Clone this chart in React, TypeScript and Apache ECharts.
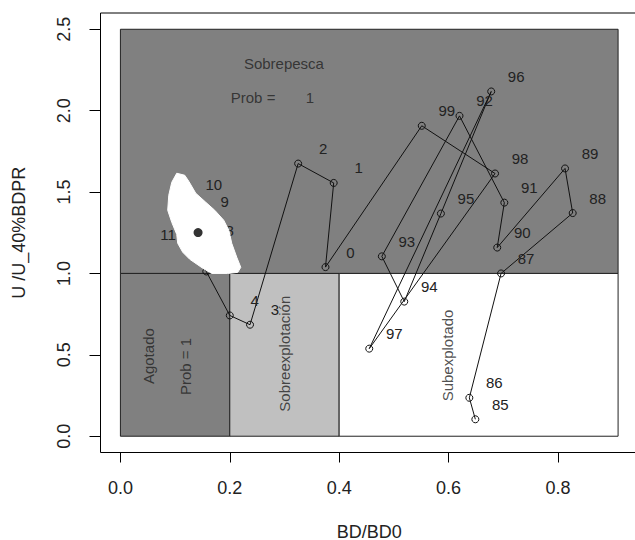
import React, { useEffect, useRef } from 'react';
import * as echarts from 'echarts';

// Trajectory (year labels, BD/BD0, U/U_40%BDPR)
const years = ['85', '86', '87', '88', '89', '90', '91', '92', '93', '94', '95', '96', '97', '98', '99', '0', '1', '2', '3', '4', '5', '6', '7', '8', '9', '10', '11'];
const bdRatio = [0.649, 0.638, 0.696, 0.827, 0.813, 0.689, 0.702, 0.620, 0.478, 0.519, 0.586, 0.678, 0.455, 0.685, 0.551, 0.375, 0.390, 0.325, 0.237, 0.200, 0.157, 0.145, 0.136, 0.154, 0.145, 0.125, 0.142];
const uRatio = [0.104, 0.236, 1.0, 1.371, 1.645, 1.159, 1.435, 1.968, 1.105, 0.827, 1.368, 2.118, 0.538, 1.614, 1.907, 1.039, 1.556, 1.675, 0.685, 0.742, 1.012, 1.093, 1.153, 1.173, 1.347, 1.456, 1.251];
// Year labels fully hidden under the cloud in the reference
const hiddenLabels = ['6', '7'];

// Uncertainty cloud of the last year (outline)
const cloudX = [0.103, 0.1176, 0.125, 0.1378, 0.1561, 0.1725, 0.189, 0.1982, 0.2036, 0.2128, 0.2201, 0.2146, 0.1963, 0.167, 0.1506, 0.1268, 0.114, 0.1048, 0.103, 0.0939, 0.0865, 0.0884, 0.0939];
const cloudY = [1.6156, 1.6033, 1.5664, 1.4926, 1.4373, 1.3881, 1.3266, 1.2651, 1.1851, 1.099, 1.0375, 1.0068, 1.0, 1.0, 1.032, 1.087, 1.13, 1.185, 1.24, 1.314, 1.388, 1.48, 1.56];

// Zones: x0, y0, x1, y1
const zoneX0 = [0, 0, 0.2, 0.4];
const zoneY0 = [1, 0, 0, 0];
const zoneX1 = [0.91, 0.2, 0.4, 0.91];
const zoneY1 = [2.5, 1, 1, 1];
const zoneFill = ['#808080', '#808080', '#c0c0c0', '#ffffff'];

// Zone annotations
const noteText = ['Sobrepesca', 'Prob =', '1', 'Agotado', 'Prob = 1', 'Sobreexplotación', 'Subexplotado'];
const noteX = [0.299, 0.2426, 0.3463, 0.0505, 0.1195, 0.3006, 0.598];
const noteY = [2.29, 2.081, 2.081, 0.492, 0.4287, 0.507, 0.496];
const noteRot = [0, 0, 0, 90, 90, 90, 90];

// Axis ticks
const xTicks = [0, 0.2, 0.4, 0.6, 0.8];
const yTicks = [0, 0.5, 1, 1.5, 2, 2.5];

const FONT = '"Liberation Sans", Arial, sans-serif';

export default function App() {
  const ref = useRef<HTMLDivElement>(null);
  useEffect(() => {
    if (!ref.current) return;
    const chart = echarts.init(ref.current, undefined, { renderer: 'svg' });
    const last = years.length - 1;
    const option: any = {
      animation: false,
      grid: {
        left: 100.5, top: 13, width: 537.5, height: 439.5,
        outerBoundsMode: 'none', containLabel: false,
        show: true, borderColor: '#000', borderWidth: 1, backgroundColor: '#fff',
      },
      xAxis: {
        type: 'value', min: -0.0364, max: 0.9464,
        axisLine: { show: false, onZero: false },
        splitLine: { show: false },
        axisTick: { show: true, inside: false, length: 10, customValues: xTicks, lineStyle: { color: '#000' } },
        axisLabel: { customValues: xTicks, formatter: (v: number) => v.toFixed(1), margin: 26, fontSize: 18, color: '#222', fontFamily: FONT },
        name: 'BD/BD0', nameLocation: 'middle', nameGap: 70,
        nameTextStyle: { fontSize: 18, color: '#222', fontFamily: FONT },
      },
      yAxis: {
        type: 'value', min: -0.1, max: 2.6,
        axisLine: { show: false, onZero: false },
        splitLine: { show: false },
        axisTick: { show: true, inside: false, length: 11, customValues: yTicks, lineStyle: { color: '#000' } },
        axisLabel: {
          customValues: yTicks, rotate: 90, align: 'center', verticalAlign: 'middle',
          formatter: (v: number) => v.toFixed(1), margin: 37, fontSize: 18, color: '#222', fontFamily: FONT,
        },
        name: 'U /U_40%BDPR', nameLocation: 'middle', nameRotate: 90, nameGap: 73,
        nameTextStyle: { fontSize: 18, color: '#222', fontFamily: FONT },
      },
      series: [
        {
          type: 'custom', z: 1, silent: true,
          encode: { x: [0, 2], y: [1, 3] },
          data: zoneX0.map((x0, i) => [x0, zoneY0[i], zoneX1[i], zoneY1[i], i]),
          renderItem: (params: any, api: any) => {
            const p0 = api.coord([api.value(0), api.value(3)]);
            const p1 = api.coord([api.value(2), api.value(1)]);
            return {
              type: 'rect',
              shape: { x: p0[0], y: p0[1], width: p1[0] - p0[0], height: p1[1] - p0[1] },
              style: { fill: zoneFill[api.value(4)], stroke: '#222', lineWidth: 1 },
            };
          },
        },
        {
          type: 'line', z: 2, silent: true,
          showAllSymbol: true,
          symbol: 'circle', symbolSize: 7,
          itemStyle: { color: 'rgba(0,0,0,0)', borderColor: '#111', borderWidth: 1 },
          lineStyle: { color: '#111', width: 1 },
          label: {
            show: true, position: 'inside', offset: [25, -15],
            formatter: (p: any) => p.name, fontSize: 15, color: '#222', fontFamily: FONT,
          },
          data: years.map((y, i) => ({
            name: y,
            value: [bdRatio[i], uRatio[i]],
            ...(i === last ? { label: { offset: [-30, 2] } } : {}),
            ...(hiddenLabels.includes(y) ? { label: { show: false } } : {}),
          })),
        },
        {
          type: 'custom', z: 3, silent: true,
          data: [[cloudX[0], cloudY[0]]],
          renderItem: (params: any, api: any) => {
            const pts = cloudX.map((x, i) => api.coord([x, cloudY[i]]));
            return { type: 'polygon', shape: { points: pts }, style: { fill: '#fff', stroke: '#fff', lineWidth: 1 } };
          },
        },
        {
          type: 'scatter', z: 4, silent: true,
          symbol: 'circle', symbolSize: 9,
          itemStyle: { color: '#000' },
          data: [[bdRatio[last], uRatio[last]]],
        },
        {
          type: 'scatter', z: 5, silent: true,
          symbol: 'circle', symbolSize: 1,
          itemStyle: { color: 'rgba(0,0,0,0)' },
          label: {
            show: true, position: 'inside', formatter: (p: any) => p.name,
            fontSize: 15, color: '#222', fontFamily: FONT,
          },
          data: noteText.map((t, i) => ({ name: t, value: [noteX[i], noteY[i]], label: { rotate: noteRot[i] } })),
        },
      ],
    };
    chart.setOption(option);
    return () => chart.dispose();
  }, []);
  return <div ref={ref} style={{ position: 'absolute', left: 0, top: 0, width: 635, height: 540 }} />;
}
